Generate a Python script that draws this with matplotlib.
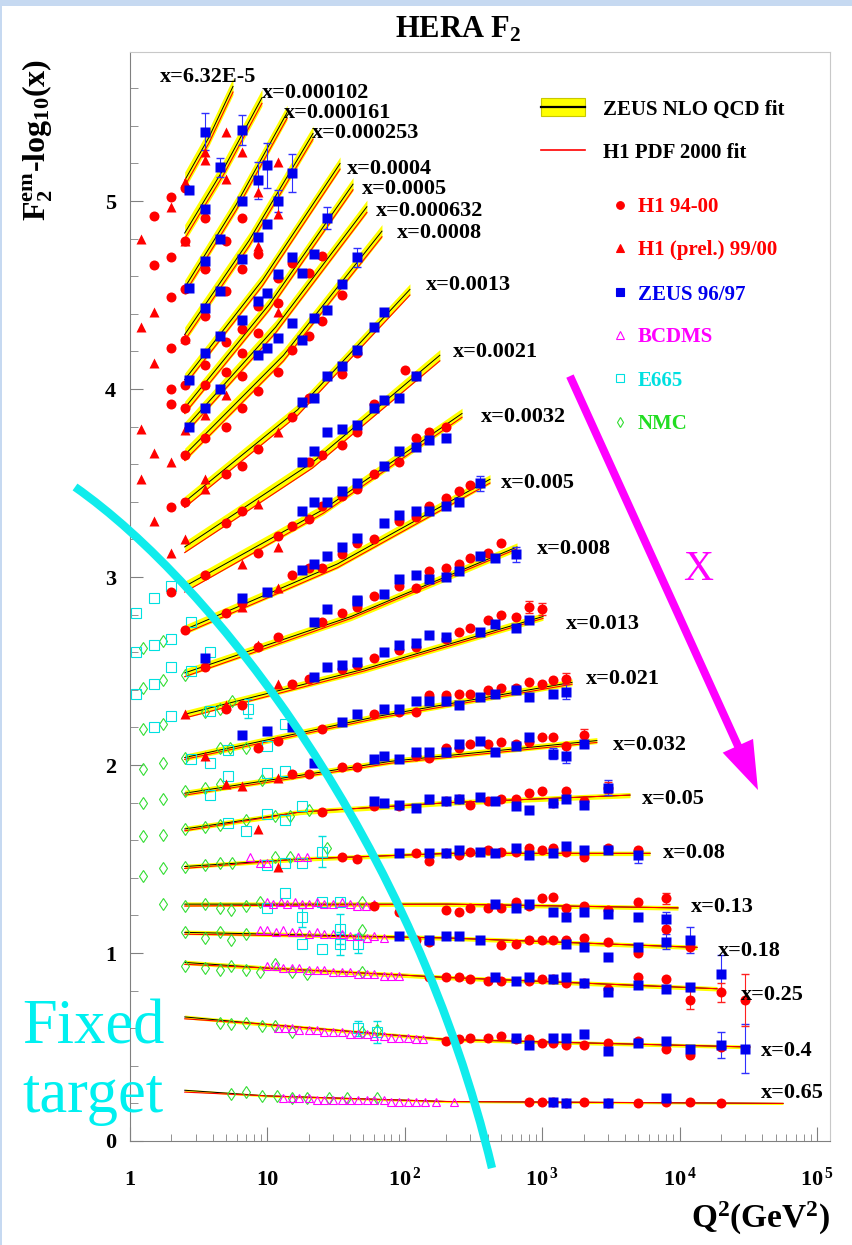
import numpy as np
import matplotlib
matplotlib.use('Agg')
import matplotlib.pyplot as plt
from matplotlib.patches import Rectangle, FancyArrowPatch, PathPatch
from matplotlib.path import Path
from matplotlib.ticker import FixedLocator

plt.rcParams['font.family'] = ['Liberation Serif', 'DejaVu Serif']
plt.rcParams['font.weight'] = 'bold'
plt.rcParams['mathtext.fontset'] = 'custom'
plt.rcParams['mathtext.rm'] = 'Liberation Serif:bold'
plt.rcParams['mathtext.it'] = 'Liberation Serif:bold'
plt.rcParams['mathtext.bf'] = 'Liberation Serif:bold'

# values plotted are F2 - log10(x)
x_bins = ['6.32E-5', '0.000102', '0.000161', '0.000253', '0.0004', '0.0005', '0.000632',
          '0.0008', '0.0013', '0.0021', '0.0032', '0.005', '0.008', '0.013', '0.021',
          '0.032', '0.05', '0.08', '0.13', '0.18', '0.25', '0.4', '0.65']

fit_q2 = [[2.5, 3.76, 5.62], [2.5, 4.79, 9.13], [2.5, 5.91, 13.9], [2.5, 7.35, 21.5],
          [2.5, 9.21, 33.8], [2.5, 10.3, 42.0], [2.5, 11.5, 53.0], [2.5, 13.1, 68.2],
          [2.5, 16.6, 109], [2.5, 21.3, 180], [2.5, 25.6, 261], [2.5, 32.4, 417],
          [2.5, 40.6, 656], [2.5, 50.5, 1014], [2.5, 64.4, 1650], [2.5, 79.4, 2500],
          [2.5, 17.3, 213, 4355], [2.5, 17.3, 213, 6093], [2.5, 203, 9730],
          [2.5, 203, 13380], [2.5, 9.9, 203, 18720], [2.5, 9.9, 203, 32500],
          [2.5, 9.9, 203, 56600]]

zeus_fit = [[5.11, 5.34, 5.61], [4.83, 5.17, 5.55], [4.54, 4.98, 5.47], [4.29, 4.79, 5.36],
            [4.05, 4.58, 5.20], [3.90, 4.45, 5.09], [3.79, 4.33, 4.97], [3.65, 4.18, 4.84],
            [3.40, 3.89, 4.53], [3.16, 3.61, 4.18], [2.95, 3.36, 3.87], [2.72, 3.07, 3.52],
            [2.49, 2.79, 3.16], [2.27, 2.51, 2.79], [2.04, 2.26, 2.44], [1.85, 2.02, 2.13],
            [1.66, 1.75, 1.80, 1.84], [1.46, 1.50, 1.53, 1.53], [1.26, 1.26, 1.24],
            [1.11, 1.08, 1.03], [0.95, 0.92, 0.87, 0.81], [0.66, 0.62, 0.54, 0.50],
            [0.27, 0.24, 0.21, 0.20]]

h1_fit = [[5.08, 5.31, 5.58], [4.80, 5.14, 5.52], [4.51, 4.95, 5.44], [4.26, 4.76, 5.33],
          [4.02, 4.55, 5.17], [3.87, 4.42, 5.06], [3.76, 4.30, 4.94], [3.62, 4.15, 4.81],
          [3.37, 3.86, 4.50], [3.13, 3.58, 4.15], [2.92, 3.34, 3.85], [2.70, 3.05, 3.50],
          [2.47, 2.78, 3.15], [2.25, 2.50, 2.78], [2.03, 2.25, 2.43], [1.84, 2.01, 2.12],
          [1.65, 1.75, 1.80, 1.84], [1.45, 1.50, 1.53, 1.53], [1.25, 1.26, 1.24],
          [1.10, 1.08, 1.03], [0.94, 0.92, 0.87, 0.81], [0.65, 0.62, 0.54, 0.50],
          [0.26, 0.24, 0.21, 0.20]]

band_err = [0.045, 0.045, 0.04, 0.04, 0.035, 0.035, 0.035, 0.035, 0.03, 0.03, 0.028, 0.025,
            0.022, 0.02, 0.018, 0.016, 0.014, 0.012, 0.012, 0.012, 0.012, 0.01, 0.006]

h1_dots = [
    (1.5, 4.92), (2.0, 5.02), (2.5, 5.07), (3.5, 4.91), (5.0, 4.79), (6.5, 4.91), (8.5, 4.72),
    (1.5, 4.66), (2.0, 4.70), (2.5, 4.79), (3.5, 4.64), (6.5, 4.64), (12, 4.59), (15, 4.67),
    (20, 4.62), (25, 4.71), (2.0, 4.49), (2.5, 4.53), (5.0, 4.52), (3.5, 4.39), (6.5, 4.32),
    (8.5, 4.44), (12, 4.46), (35, 4.50), (2.0, 4.22), (2.5, 4.26), (5.0, 4.25), (8.5, 4.30),
    (15, 4.21), (20, 4.28), (25, 4.36), (3.5, 4.13), (6.5, 4.19), (2.0, 4.00), (2.5, 4.02),
    (3.5, 4.02), (5.0, 4.09), (6.5, 4.07), (2.0, 3.92), (2.5, 3.90), (3.5, 3.74), (5.0, 3.80),
    (6.5, 3.90), (8.5, 3.99), (12, 4.09), (20, 3.95), (35, 4.08), (45, 4.19), (100, 4.10),
    (120, 4.07), (2.5, 3.65), (5.0, 3.55), (6.5, 3.59), (8.5, 3.68), (15, 3.85), (20, 3.61),
    (25, 3.65), (35, 3.70), (45, 3.77), (60, 3.92), (90, 3.61), (120, 3.74), (150, 3.77),
    (200, 3.80), (60, 3.55), (45, 3.47), (35, 3.43), (25, 3.38), (20, 3.31), (15, 3.27),
    (12, 3.22), (8.5, 3.13), (6.5, 3.35), (5.0, 3.29), (2.0, 3.37), (2.5, 3.40), (3.5, 3.01),
    (2.0, 2.92), (90, 3.30), (120, 3.32), (150, 3.38), (200, 3.42), (250, 3.46), (300, 3.49),
    (60, 3.20), (45, 3.18), (35, 3.12), (25, 3.05), (20, 3.05), (15, 3.01), (60, 2.90),
    (90, 2.95), (120, 2.94), (150, 3.03), (200, 3.05), (250, 3.07), (300, 3.10), (400, 3.13),
    (500, 3.18), (6.5, 2.86), (5.0, 2.81), (2.5, 2.72), (3.5, 2.52), (8.5, 2.63), (12, 2.68),
    (25, 2.76), (35, 2.81), (45, 2.84),
    (15, 2.43), (20, 2.46), (35, 2.51), (45, 2.53), (60, 2.57), (90, 2.61), (120, 2.63),
    (200, 2.67), (250, 2.71), (300, 2.73), (400, 2.77), (500, 2.80), (650, 2.79), (800, 2.84),
    (1000, 2.83),
    (5.0, 2.30), (6.5, 2.32), (8.5, 2.09), (12, 2.13), (25, 2.19), (60, 2.27), (90, 2.28),
    (120, 2.28), (150, 2.37), (200, 2.37), (250, 2.38), (300, 2.38), (400, 2.40), (500, 2.41),
    (650, 2.41), (800, 2.44), (1000, 2.43), (1200, 2.45), (1500, 2.46),
    (15, 1.95), (20, 1.95), (35, 1.99), (45, 1.99), (120, 2.05), (150, 2.04), (200, 2.09),
    (250, 2.09), (300, 2.11), (400, 2.11), (500, 2.12), (650, 2.11), (800, 2.12), (1000, 2.15),
    (1200, 2.15), (1500, 2.10), (2000, 2.16),
    (25, 1.75), (60, 1.78), (90, 1.78), (200, 1.81), (250, 1.82), (300, 1.79), (400, 1.81),
    (500, 1.82), (650, 1.82), (800, 1.85), (1000, 1.86), (1200, 1.80), (1500, 1.86),
    (2000, 1.81), (3000, 1.88),
    (35, 1.51), (45, 1.50), (120, 1.53), (150, 1.49), (200, 1.53), (250, 1.52), (300, 1.54),
    (400, 1.55), (500, 1.54), (650, 1.54), (800, 1.56), (1000, 1.55), (1200, 1.56),
    (1500, 1.54), (2000, 1.51), (3000, 1.56), (5000, 1.55),
    (60, 1.25), (90, 1.22), (200, 1.23), (250, 1.22), (300, 1.24), (400, 1.24), (500, 1.24),
    (650, 1.27), (800, 1.25), (1000, 1.29), (1200, 1.30), (1500, 1.24), (2000, 1.25),
    (3000, 1.23), (5000, 1.27), (8000, 1.29),
    (120, 1.07), (150, 1.06), (500, 1.04), (650, 1.05), (800, 1.07), (1000, 1.07),
    (1200, 1.07), (1500, 1.07), (2000, 1.08), (3000, 1.06), (5000, 1.00), (8000, 1.13),
    (12000, 1.03),
    (150, 0.87), (200, 0.87), (250, 0.87), (300, 0.86), (400, 0.85), (500, 0.85), (800, 0.85),
    (1000, 0.86), (1200, 0.86), (1500, 0.84), (2000, 0.84), (3000, 0.81), (5000, 0.87),
    (8000, 0.86), (12000, 0.75), (20000, 0.79), (30000, 0.75),
    (200, 0.53), (250, 0.54), (300, 0.55), (400, 0.55), (500, 0.56), (650, 0.54), (800, 0.54),
    (1000, 0.52), (1200, 0.52), (1500, 0.51), (2000, 0.51), (3000, 0.52), (5000, 0.53),
    (8000, 0.49), (12000, 0.46), (20000, 0.50),
    (800, 0.21), (1000, 0.21), (1200, 0.21), (1500, 0.20), (2000, 0.21), (3000, 0.20),
    (5000, 0.20), (8000, 0.21), (12000, 0.21), (20000, 0.20),
]

h1_prel = [
    (1.2, 4.80), (2.0, 4.97), (2.5, 5.10), (3.5, 5.26), (3.5, 5.22), (5.0, 5.37), (5.0, 5.12),
    (6.5, 5.26), (8.5, 5.05), (12, 5.21), (12, 4.93), (2.5, 4.79), (3.5, 4.66), (8.5, 4.76),
    (1.5, 4.41), (1.2, 4.33), (12, 4.41), (2.5, 4.27), (1.5, 4.14), (5.0, 3.97), (3.5, 3.86),
    (2.5, 3.78), (1.2, 3.79), (1.5, 3.66), (2.0, 3.61), (1.2, 3.52), (3.5, 3.52), (3.5, 3.47),
    (12, 3.77), (1.5, 3.30), (2.5, 3.20), (2.0, 3.13), (8.5, 3.39), (12, 3.16), (6.5, 3.07),
    (12, 2.94), (6.5, 2.84), (8.5, 2.64), (12, 2.43), (5.0, 2.32), (2.5, 2.27), (3.5, 2.05),
    (5.0, 1.90), (6.5, 1.89), (12, 1.93), (8.5, 1.66), (12, 1.46),
]

zeus = [
    (2.7, 5.06), (3.5, 5.37), (4.5, 5.18), (6.5, 5.38), (3.5, 4.96), (4.5, 4.80), (6.5, 5.00),
    (8.5, 5.11), (10, 5.19), (15, 5.15), (12, 5.00), (10, 4.88), (8.5, 4.81), (27, 4.91),
    (2.7, 4.54), (3.5, 4.68), (4.5, 4.52), (6.5, 4.69), (12, 4.61), (15, 4.70), (18, 4.62),
    (22, 4.72), (3.5, 4.43), (6.5, 4.37), (8.5, 4.47), (10, 4.51), (15, 4.35), (12, 4.27),
    (10, 4.22), (8.5, 4.18), (4.5, 4.28), (18, 4.26), (22, 4.38), (27, 4.42), (35, 4.56),
    (45, 4.70), (3.5, 4.19), (2.7, 4.05), (4.5, 4.00), (3.5, 3.90), (2.7, 3.80),
    (18, 3.93), (22, 3.95), (27, 4.07), (35, 4.12), (45, 4.21), (60, 4.33), (70, 4.41),
    (120, 4.07), (18, 3.61), (22, 3.67), (27, 3.77), (35, 3.79), (45, 3.81), (60, 3.90),
    (70, 3.94), (90, 3.95), (200, 3.74), (150, 3.73), (120, 3.69), (90, 3.67), (70, 3.59),
    (45, 3.50), (35, 3.46), (27, 3.40), (22, 3.40), (18, 3.35), (10, 2.92), (6.5, 2.89),
    (250, 3.40), (350, 3.50), (200, 3.38), (150, 3.35), (120, 3.35), (90, 3.33), (70, 3.29),
    (45, 3.21), (35, 3.16), (27, 3.11), (22, 3.07), (18, 3.04), (45, 2.88), (70, 2.91),
    (90, 2.99), (120, 3.01), (150, 2.99), (200, 3.00), (250, 3.03), (350, 3.11), (450, 3.10),
    (650, 3.12), (3.5, 2.57), (22, 2.76), (27, 2.83), (45, 2.87),
    (22, 2.47), (27, 2.52), (35, 2.53), (45, 2.55), (70, 2.60), (90, 2.64), (120, 2.65),
    (150, 2.69), (200, 2.68), (350, 2.71), (450, 2.75), (650, 2.73), (800, 2.77),
    (6.5, 2.16), (10, 2.18), (15, 2.20), (35, 2.23), (45, 2.27), (70, 2.30), (90, 2.30),
    (120, 2.34), (150, 2.34), (200, 2.34), (250, 2.32), (350, 2.36), (450, 2.38), (650, 2.40),
    (800, 2.36), (1200, 2.38), (1500, 2.39),
    (22, 2.01), (60, 2.03), (70, 2.05), (90, 2.03), (120, 2.07), (150, 2.07), (200, 2.07),
    (250, 2.11), (350, 2.13), (450, 2.07), (650, 2.10), (800, 2.15), (1200, 2.06), (1500, 2.05),
    (2000, 2.11),
    (60, 1.81), (70, 1.80), (90, 1.79), (120, 1.77), (150, 1.82), (200, 1.81), (250, 1.82),
    (350, 1.83), (450, 1.81), (650, 1.78), (800, 1.76), (1200, 1.80), (1500, 1.82), (2000, 1.79),
    (3000, 1.88),
    (90, 1.53), (150, 1.53), (200, 1.53), (250, 1.55), (350, 1.54), (450, 1.53), (650, 1.56),
    (800, 1.52), (1200, 1.53), (1500, 1.57), (2000, 1.55), (3000, 1.55), (5000, 1.52),
    (450, 1.26), (650, 1.24), (800, 1.26), (1200, 1.22), (1500, 1.19), (2000, 1.22),
    (3000, 1.21), (5000, 1.19), (8000, 1.18),
    (90, 1.09), (150, 1.07), (200, 1.09), (250, 1.09), (350, 1.07), (1500, 1.05), (2000, 1.03),
    (3000, 0.98), (5000, 1.03), (8000, 1.06), (12000, 1.07),
    (450, 0.87), (650, 0.85), (800, 0.87), (1200, 0.86), (1500, 0.87), (2000, 0.84),
    (3000, 0.79), (5000, 0.83), (8000, 0.81), (12000, 0.82), (20000, 0.89),
    (650, 0.55), (800, 0.51), (1200, 0.55), (1500, 0.55), (2000, 0.57), (3000, 0.48),
    (5000, 0.52), (8000, 0.53), (12000, 0.49), (20000, 0.51), (30000, 0.49),
    (1200, 0.21), (1500, 0.20), (3000, 0.20), (8000, 0.23),
]

bcdms = [
    (7.5, 1.51), (8.8, 1.48), (10, 1.48), (16.7, 1.51), (19.4, 1.51),
    (10, 1.27), (11, 1.26), (12.5, 1.27), (14, 1.26), (16, 1.27), (18, 1.26), (20, 1.26),
    (23, 1.27), (26, 1.26), (30, 1.26), (35, 1.27), (40, 1.26), (45, 1.25), (52, 1.25), (60, 1.26),
    (8.8, 1.12), (10, 1.12), (11.5, 1.11), (13, 1.12), (15, 1.11), (17, 1.11), (20, 1.10),
    (23, 1.11), (26, 1.10), (30, 1.10), (35, 1.10), (40, 1.09), (46, 1.09), (53, 1.08),
    (60, 1.09), (70, 1.08),
    (10, 0.93), (11.5, 0.93), (13, 0.92), (15, 0.92), (17, 0.92), (20, 0.91), (23, 0.91),
    (26, 0.91), (30, 0.90), (35, 0.90), (40, 0.90), (46, 0.89), (53, 0.89), (60, 0.89),
    (70, 0.88), (80, 0.88), (90, 0.88),
    (12, 0.60), (13.5, 0.60), (15, 0.60), (17, 0.59), (20, 0.59), (23, 0.59), (26, 0.58),
    (30, 0.58), (35, 0.58), (40, 0.57), (46, 0.57), (53, 0.57), (60, 0.56), (70, 0.56),
    (80, 0.55), (90, 0.55), (105, 0.55), (120, 0.54), (135, 0.54),
    (13, 0.23), (15, 0.23), (17, 0.23), (20, 0.23), (23, 0.22), (26, 0.22), (30, 0.22),
    (35, 0.22), (40, 0.22), (46, 0.22), (53, 0.22), (60, 0.22), (70, 0.22), (80, 0.21),
    (90, 0.21), (105, 0.21), (120, 0.21), (140, 0.21), (170, 0.21), (230, 0.21),
]

e665 = [
    (1.1, 2.81), (1.5, 2.89), (2.0, 2.95), (2.8, 2.76), (1.1, 2.60), (1.5, 2.64), (2.0, 2.67),
    (3.8, 2.60), (1.1, 2.38), (1.5, 2.43), (2.0, 2.52), (2.8, 2.50), (2.0, 2.26), (1.5, 2.20),
    (3.8, 2.29), (7.2, 2.30), (2.8, 2.03), (3.8, 2.01), (5.2, 2.08), (10, 2.10), (13.4, 2.22),
    (3.8, 1.84), (5.2, 1.94), (10, 1.96), (13.4, 1.97), (5.2, 1.69), (7.0, 1.65), (10, 1.74),
    (13.4, 1.71), (18, 1.78), (25, 1.54), (10, 1.47), (13.4, 1.48), (18, 1.48), (13.4, 1.32),
    (10, 1.24), (18, 1.19), (18, 1.05), (25, 1.02), (34, 1.05), (46, 1.05), (25, 1.27),
    (34, 1.27), (34, 1.13), (46, 0.60), (63, 0.58),
]

nmc = [
    (1.25, 2.62), (1.75, 2.66), (1.25, 2.41), (1.75, 2.45), (2.5, 2.48), (1.25, 2.19),
    (1.75, 2.22), (3.5, 2.28), (4.5, 2.30), (5.5, 2.34), (1.25, 1.98), (1.75, 2.01), (2.5, 2.04),
    (4.5, 2.09), (5.3, 2.09), (7.0, 2.09), (1.25, 1.80), (1.75, 1.82), (2.5, 1.86), (3.5, 1.88),
    (4.5, 1.90), (9.1, 1.92), (1.25, 1.62), (1.75, 1.63), (2.5, 1.66), (3.5, 1.67), (4.5, 1.68),
    (7.0, 1.71), (11.3, 1.73), (14.5, 1.73), (20, 1.76), (1.25, 1.41), (1.75, 1.45), (2.5, 1.46),
    (3.5, 1.47), (4.5, 1.48), (5.5, 1.48), (11.3, 1.51), (14.5, 1.51), (27, 1.56),
    (1.75, 1.26), (2.5, 1.25), (3.5, 1.26), (4.5, 1.24), (5.4, 1.23), (7.0, 1.25), (8.8, 1.27),
    (49, 1.27), (2.5, 1.11), (3.5, 1.08), (4.5, 1.11), (5.4, 1.07), (7.0, 1.10), (49, 1.12),
    (2.5, 0.93), (3.5, 0.92), (4.5, 0.91), (5.4, 0.93), (7.0, 0.91), (8.8, 0.90), (11.3, 0.94),
    (15, 0.90), (19.4, 0.89), (49, 0.90), (4.5, 0.63), (5.4, 0.62), (7.0, 0.63), (9.1, 0.61),
    (11.3, 0.61), (15, 0.58), (49, 0.58), (63, 0.59), (5.4, 0.25), (7.0, 0.26), (9.1, 0.24),
    (11.7, 0.24), (15, 0.23), (19.4, 0.23), (28, 0.23), (38, 0.23), (63, 0.23),
]

# (Q2, value, error) for the visibly large error bars
zeus_err = [(3.5, 5.37, 0.10), (4.5, 5.18, 0.05), (6.5, 5.38, 0.08), (8.5, 5.11, 0.10),
            (10, 5.19, 0.12), (15, 5.15, 0.10), (12, 5.00, 0.06), (27, 4.91, 0.06),
            (45, 4.70, 0.05), (350, 3.50, 0.04), (650, 3.12, 0.04), (1500, 2.39, 0.04),
            (1200, 2.06, 0.03), (1500, 2.05, 0.04), (3000, 1.88, 0.04), (5000, 1.52, 0.04),
            (8000, 1.18, 0.04), (12000, 1.07, 0.07), (20000, 0.89, 0.10), (20000, 0.51, 0.07),
            (30000, 0.49, 0.13), (8000, 1.06, 0.04)]
h1_err = [(30000, 0.75, 0.14), (8000, 1.29, 0.03), (12000, 0.75, 0.05), (20000, 0.79, 0.05),
          (1500, 2.46, 0.03), (1000, 2.83, 0.03), (800, 2.84, 0.03), (2000, 2.16, 0.03),
          (3000, 1.88, 0.03)]
e665_err = [(7.2, 2.30, 0.05), (25, 1.54, 0.08), (18, 1.19, 0.05), (34, 1.05, 0.06),
            (46, 1.05, 0.05), (34, 1.13, 0.08), (46, 0.60, 0.04), (63, 0.58, 0.06)]

# hand drawn overlays on the slide: bezier control points (Q2, value)
fixed_edge_q2 = [0.398, 4.16, 118.7, 431]
fixed_edge_val = [3.479, 2.957, 1.574, -0.144]
arrow_from = (1593, 4.069)
arrow_to = (37200, 1.867)

# label anchors (left edge, centre) in pixels
label_px = [(160, 75), (262, 90), (284, 110), (312, 131), (347, 167), (362, 187), (376, 209),
            (397, 231), (426, 283), (453, 350), (481, 415), (501, 481), (537, 546), (566, 622),
            (586, 677), (613, 742), (642, 796), (663, 851), (691, 905), (718, 948), (741, 992),
            (761, 1048), (761, 1090)]

W, H = 852, 1245


def fpos(px, py):
    return px / W, 1 - py / H


fig = plt.figure(figsize=(W / 100, H / 100), dpi=100)
fig.patches.append(Rectangle((0, 1 - 6 / H), 1, 6 / H, transform=fig.transFigure,
                             facecolor='#c6d9f1', edgecolor='none', zorder=0))
fig.patches.append(Rectangle((0, 0), 2 / W, 1, transform=fig.transFigure,
                             facecolor='#c6d9f1', edgecolor='none', zorder=0))

ax = fig.add_axes([130 / W, 1 - 1141 / H, 700 / W, 1089 / H])
ax.set_xscale('log')
ax.set_xlim(1, 1.244e5)
ax.set_ylim(0, 5.793)

for q, zf, hf, e in zip(fit_q2, zeus_fit, h1_fit, band_err):
    q = np.array(q)
    zf = np.array(zf)
    ax.fill_between(q, zf - e, zf + e, color='#ffff00', lw=0, zorder=1)
    ax.plot(q, zf, color='k', lw=0.7, zorder=2)
    ax.plot(q, hf, color='#ff0000', lw=0.8, zorder=2)


def draw(pts, **kw):
    q, v = zip(*pts)
    ax.plot(q, v, ls='none', zorder=4, **kw)


def bars(pts, col):
    q, v, e = zip(*pts)
    ax.errorbar(q, v, yerr=e, fmt='none', ecolor=col, elinewidth=0.8, capsize=3, zorder=3)


bars(zeus_err, '#3030ff')
bars(h1_err, '#ff2020')
bars(e665_err, '#00dede')

draw(nmc, marker='d', ms=6, mfc='none', mec='#33dd33', mew=0.8)
draw(e665, marker='s', ms=6.5, mfc='none', mec='#00e0e0', mew=0.8)
draw(bcdms, marker='^', ms=5.5, mfc='none', mec='#ff00ff', mew=0.8)
draw(h1_prel, marker='^', ms=7.5, color='#ff0000', mec='none')
draw(h1_dots, marker='o', ms=7.2, color='#ff0000', mec='none')
draw(zeus, marker='s', ms=6.5, color='#0000ee', mec='none')

for lab, (px, py) in zip(x_bins, label_px):
    fig.text(*fpos(px, py), 'x=' + lab, fontsize=16, ha='left', va='center_baseline')

# axes cosmetics
for s in ['left', 'bottom']:
    ax.spines[s].set_color('#808080')
for s in ['top', 'right']:
    ax.spines[s].set_color('#c8c8c8')
ax.xaxis.set_major_locator(FixedLocator([1, 10, 1e2, 1e3, 1e4, 1e5]))
ax.xaxis.set_minor_locator(FixedLocator([m * 10.0 ** d for d in range(5) for m in range(2, 10)]))
ax.set_xticklabels(['1', '10', r'$10^{\,2}$', r'$10^{\,3}$', r'$10^{\,4}$', r'$10^{\,5}$'])
ax.set_yticks([0, 1, 2, 3, 4, 5])
ax.set_yticklabels(['0', '1', '2', '3', '4', '5'])
ax.yaxis.set_minor_locator(FixedLocator(np.arange(0, 5.8, 0.2)))
ax.tick_params(which='both', direction='in', color='#808080', top=False, right=False)
ax.tick_params(axis='x', which='major', length=10, labelsize=16, pad=32)
ax.tick_params(axis='x', which='minor', length=5)
ax.tick_params(axis='y', which='major', length=9, labelsize=16, pad=10)
ax.tick_params(axis='y', which='minor', length=6)
plt.setp(ax.get_xticklabels(), va='baseline')

fig.text(*fpos(458, 30), r'HERA F$_2$', fontsize=22, ha='center', va='center')
fig.text(*fpos(38, 140), r'F$_2^{em}$-log$_{10}$(x)', fontsize=23, rotation=90,
         ha='center', va='center')
fig.text(*fpos(830, 1218), r'Q$^2$(GeV$^2$)', fontsize=24, ha='right', va='center')

# legend
fig.patches.append(Rectangle(fpos(541, 116), 44 / W, 18 / H, transform=fig.transFigure,
                             facecolor='#ffff00', edgecolor='#c8c800', lw=0.8))
fig.lines.append(plt.Line2D([541 / W, 585 / W], [1 - 107 / H] * 2, color='k', lw=1.6,
                            transform=fig.transFigure))
fig.lines.append(plt.Line2D([541 / W, 585 / W], [1 - 150 / H] * 2, color='#ff0000', lw=1.2,
                            transform=fig.transFigure))
fig.text(*fpos(603, 107), 'ZEUS NLO QCD fit', fontsize=15, va='center_baseline')
fig.text(*fpos(603, 150), 'H1 PDF 2000 fit', fontsize=15, va='center_baseline')
leg = [(205, 'o', '#ff0000', True, 'H1 94-00', '#ff0000'),
       (248, '^', '#ff0000', True, 'H1 (prel.) 99/00', '#ff0000'),
       (292, 's', '#0000ee', True, 'ZEUS 96/97', '#0000ee'),
       (335, '^', '#ff00ff', False, 'BCDMS', '#ff00ff'),
       (378, 's', '#00e0e0', False, 'E665', '#00e0e0'),
       (422, 'd', '#33dd33', False, 'NMC', '#22dd22')]
for py, mk, c, filled, txt, tc in leg:
    fig.lines.append(plt.Line2D([620 / W], [1 - py / H], marker=mk, ms=5.5,
                                mfc=c if filled else 'none', mec=c, mew=0.8, ls='none',
                                transform=fig.transFigure))
    fig.text(*fpos(638, py), txt, fontsize=15, color=tc, va='center_baseline')

# slide annotations
edge = Path(list(zip(fixed_edge_q2, fixed_edge_val)),
            [Path.MOVETO, Path.CURVE4, Path.CURVE4, Path.CURVE4])
ax.add_patch(PathPatch(edge, facecolor='none', edgecolor='#10ecec', lw=6, clip_on=False,
                       zorder=6, capstyle='butt'))
ax.add_patch(FancyArrowPatch(arrow_from, arrow_to, arrowstyle='simple,tail_width=5.8,'
                             'head_width=24,head_length=35', mutation_scale=1,
                             color='#ff00ff', lw=0, clip_on=False, zorder=6,
                             shrinkA=0, shrinkB=0))
ax.text(13600, 3.037, 'X', fontsize=30, color='#ff00ff', fontweight='normal',
        ha='center', va='center', zorder=6)
fig.text(22 / W, 1 - 1043 / H, 'Fixed', fontsize=45, color='#00f0f0', fontweight='normal',
         va='baseline', zorder=7)
fig.text(22 / W, 1 - 1112 / H, 'target', fontsize=45, color='#00f0f0', fontweight='normal',
         va='baseline', zorder=7)

fig.savefig('out.png', dpi=100)
